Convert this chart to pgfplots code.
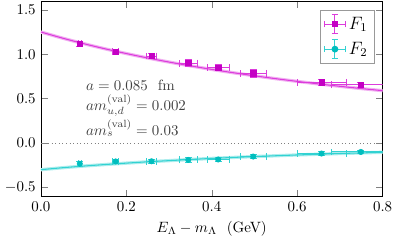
\documentclass[border=0pt]{standalone}
\usepackage{pgfplots}
\pgfplotsset{compat=1.18}
\usepackage{pgfplotstable}
\definecolor{fone}{RGB}{196,0,196}
\definecolor{foneL}{RGB}{220,60,220}
\definecolor{ftwo}{RGB}{0,190,190}
\definecolor{ftwoL}{RGB}{50,210,210}
\pgfplotstableread{
x y ex ey
0.091 1.12 0.004 0.03
0.175 1.03 0.007 0.025
0.259 0.98 0.012 0.03
0.345 0.90 0.02 0.04
0.415 0.85 0.025 0.035
0.497 0.785 0.03 0.04
0.657 0.685 0.057 0.03
0.749 0.655 0.068 0.03
}\Fone
\pgfplotstableread{
x y ex ey
0.091 -0.233 0.004 0.025
0.175 -0.207 0.007 0.02
0.259 -0.205 0.012 0.02
0.345 -0.19 0.02 0.025
0.415 -0.185 0.025 0.025
0.497 -0.152 0.03 0.025
0.657 -0.118 0.057 0.02
0.749 -0.10 0.068 0.02
}\Ftwo
\pgfplotstableread{
x y
0 1.25
0.05 1.1817
0.1 1.1188
0.15 1.0608
0.2 1.0073
0.25 0.9576
0.3 0.9116
0.35 0.8688
0.4 0.8289
0.45 0.7917
0.5 0.7570
0.55 0.7245
0.6 0.6941
0.65 0.6655
0.7 0.6387
0.75 0.6134
0.8 0.5896
}\FoneFit
\pgfplotstableread{
x y
0 -0.300
0.05 -0.278
0.1 -0.259
0.15 -0.242
0.2 -0.226
0.25 -0.211
0.3 -0.198
0.35 -0.185
0.4 -0.173
0.45 -0.162
0.5 -0.152
0.55 -0.143
0.6 -0.134
0.65 -0.126
0.7 -0.118
0.75 -0.111
0.8 -0.104
}\FtwoFit
\begin{document}
\begin{tikzpicture}
\begin{axis}[
  scale only axis,
  width=229pt, height=131pt,
  xmin=0, xmax=0.8, ymin=-0.6, ymax=1.6,
  xtick={0,0.2,0.4,0.6,0.8},
  ytick={-0.5,0,0.5,1.0,1.5},
  xticklabel style={/pgf/number format/.cd,fixed,fixed zerofill,precision=1},
  yticklabel style={/pgf/number format/.cd,fixed,fixed zerofill,precision=1},
  major tick length=4.5pt,
  xlabel={$E_\Lambda - m_\Lambda$~~(GeV)},
  legend style={at={(0.977,0.955)}, anchor=north east, draw=gray!80, line width=0.8pt, row sep=3pt, inner sep=2.5pt, font=\large},
  legend cell align=left,
]
\addplot[draw=gray, dotted, forget plot] coordinates {(0,0) (0.8,0)};
\addplot[foneL!40, line width=2.2pt, forget plot, smooth] table[x=x,y=y] {\FoneFit};
\addplot[foneL, line width=0.7pt, forget plot, smooth] table[x=x,y=y] {\FoneFit};
\addplot[ftwoL!40, line width=2.2pt, forget plot, smooth] table[x=x,y=y] {\FtwoFit};
\addplot[ftwoL, line width=0.7pt, forget plot, smooth] table[x=x,y=y] {\FtwoFit};
\addplot[only marks, mark=square*, mark size=1.8pt, color=fone,
  legend image code/.code={
  \draw[foneL, line width=0.6pt] (0.0cm,0) -- (0.5cm,0);
  \draw[foneL, line width=0.6pt] (0.0cm,-0.07cm) -- (0.0cm,0.07cm);
  \draw[foneL, line width=0.6pt] (0.5cm,-0.07cm) -- (0.5cm,0.07cm);
  \draw[foneL, line width=0.6pt] (0.25cm,-0.22cm) -- (0.25cm,0.22cm);
  \draw[foneL, line width=0.6pt] (0.18cm,-0.22cm) -- (0.32cm,-0.22cm);
  \draw[foneL, line width=0.6pt] (0.18cm,0.22cm) -- (0.32cm,0.22cm);
  \fill[fone] (0.19cm,-0.06cm) rectangle (0.31cm,0.06cm);},
  error bars/.cd, x dir=both, x explicit, y dir=both, y explicit,
  error bar style={foneL, line width=0.6pt}, error mark options={rotate=90, mark size=2.3pt, foneL}]
  table[x=x,y=y,x error=ex,y error=ey] {\Fone};
\addlegendentry{$F_1$}
\addplot[only marks, mark=*, mark size=1.8pt, color=ftwo,
  legend image code/.code={
  \draw[ftwoL, line width=0.6pt] (0.0cm,0) -- (0.5cm,0);
  \draw[ftwoL, line width=0.6pt] (0.0cm,-0.07cm) -- (0.0cm,0.07cm);
  \draw[ftwoL, line width=0.6pt] (0.5cm,-0.07cm) -- (0.5cm,0.07cm);
  \draw[ftwoL, line width=0.6pt] (0.25cm,-0.22cm) -- (0.25cm,0.22cm);
  \draw[ftwoL, line width=0.6pt] (0.18cm,-0.22cm) -- (0.32cm,-0.22cm);
  \draw[ftwoL, line width=0.6pt] (0.18cm,0.22cm) -- (0.32cm,0.22cm);
  \fill[ftwo] (0.25cm,0) circle (0.065cm);},
  error bars/.cd, x dir=both, x explicit, y dir=both, y explicit,
  error bar style={ftwoL, line width=0.6pt}, error mark options={rotate=90, mark size=2.3pt, ftwoL}]
  table[x=x,y=y,x error=ex,y error=ey] {\Ftwo};
\addlegendentry{$F_2$}
\node[anchor=west, text=black!75, inner sep=0pt] at (axis cs:0.105,0.656) {$a = 0.085$~~fm};
\node[anchor=west, text=black!75, inner sep=0pt] at (axis cs:0.105,0.42) {$am_{u,d}^{(\mathrm{val})} = 0.002$};
\node[anchor=west, text=black!75, inner sep=0pt] at (axis cs:0.105,0.167) {$am_{s}^{(\mathrm{val})} = 0.03$};
\end{axis}
\path (current axis.east) ++(11pt,0) coordinate (rr);
\path (rr) -- (rr);
\end{tikzpicture}
\end{document}
